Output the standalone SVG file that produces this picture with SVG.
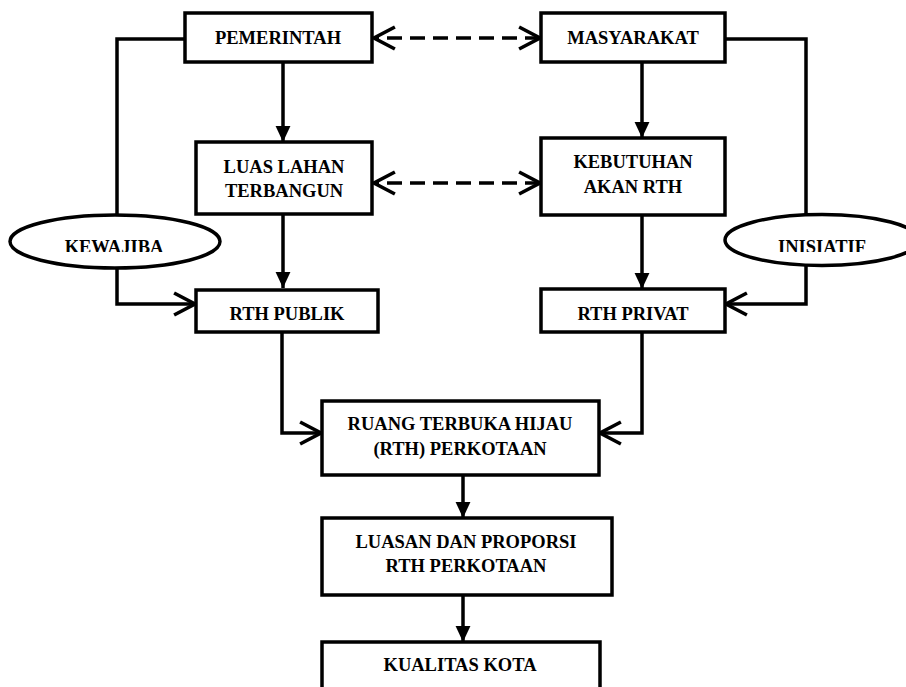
<svg xmlns="http://www.w3.org/2000/svg" width="906" height="687" viewBox="0 0 906 687">
<style>
.box{fill:#fff;stroke:#000;stroke-width:3.5}
.ell{fill:#fff;stroke:#000;stroke-width:3.5}
.t{font-family:"Liberation Serif","Times New Roman",serif;font-weight:bold;font-size:18.5px;fill:#000;text-anchor:middle}
.c{fill:none;stroke:#000;stroke-width:3.5}
.d{fill:none;stroke:#000;stroke-width:3.5;stroke-dasharray:15 8}
</style>
<defs>
<marker id="tri" markerUnits="userSpaceOnUse" markerWidth="16" markerHeight="16" viewBox="0 0 14 14" refX="14" refY="7" orient="auto" overflow="visible">
<path d="M0,0.5 L14,7 L0,13.5 z" fill="#000"/>
</marker>
<marker id="open" markerUnits="userSpaceOnUse" markerWidth="22" markerHeight="22" viewBox="0 0 20 20" refX="19" refY="10" orient="auto-start-reverse" overflow="visible">
<path d="M0,0 L19,10 L0,20" fill="none" stroke="#000" stroke-width="3.3" stroke-linejoin="miter"/>
</marker>
<clipPath id="clipK"><rect x="0" y="200" width="260" height="52"/></clipPath>
<clipPath id="clipI"><rect x="700" y="200" width="206" height="52"/></clipPath>
</defs>
<rect width="906" height="687" fill="#fff"/>
<g id="connectors">
<path class="c" d="M283,62 V142" marker-end="url(#tri)"/>
<path class="c" d="M283,214 V288" marker-end="url(#tri)"/>
<path class="c" d="M642,62 V138" marker-end="url(#tri)"/>
<path class="c" d="M642,215 V289" marker-end="url(#tri)"/>
<path class="d" d="M540,38 H374" marker-start="url(#open)" marker-end="url(#open)"/>
<path class="d" d="M540,183 H374" marker-start="url(#open)" marker-end="url(#open)"/>
<path class="c" d="M185,39 H117 V304 H195" marker-end="url(#open)"/>
<path class="c" d="M725,39 H806 V304 H726" marker-end="url(#open)"/>
<path class="c" d="M282,332 V433 H321" marker-end="url(#open)"/>
<path class="c" d="M642,332 V433 H600" marker-end="url(#open)"/>
<path class="c" d="M463,475 V518" marker-end="url(#tri)"/>
<path class="c" d="M463,595 V642" marker-end="url(#tri)"/>
</g>
<g id="pemerintah"><rect class="box" x="185" y="13" width="187" height="49"/><text class="t" x="278" y="44">PEMERINTAH</text></g>
<g id="masyarakat"><rect class="box" x="541" y="13" width="184" height="49"/><text class="t" x="633" y="44">MASYARAKAT</text></g>
<g id="luas-lahan"><rect class="box" x="196" y="142" width="176" height="72"/><text class="t" x="284" y="173">LUAS LAHAN</text><text class="t" x="284" y="197">TERBANGUN</text></g>
<g id="kebutuhan"><rect class="box" x="541" y="138" width="184" height="77"/><text class="t" x="633" y="168">KEBUTUHAN</text><text class="t" x="633" y="193">AKAN RTH</text></g>
<g id="rth-publik"><rect class="box" x="196" y="290" width="182" height="42"/><text class="t" x="287" y="320">RTH PUBLIK</text></g>
<g id="rth-privat"><rect class="box" x="541" y="289" width="184" height="43"/><text class="t" x="633" y="320">RTH PRIVAT</text></g>
<g id="kewajiban"><ellipse class="ell" cx="115" cy="241.5" rx="105" ry="26.5"/><text class="t" x="114" y="253" clip-path="url(#clipK)">KEWAJIBA</text></g>
<g id="inisiatif"><ellipse class="ell" cx="822" cy="240" rx="97" ry="25.5"/><text class="t" x="822" y="253" clip-path="url(#clipI)">INISIATIF</text></g>
<g id="rth-perkotaan"><rect class="box" x="322" y="401" width="277" height="74"/><text class="t" x="460" y="430">RUANG TERBUKA HIJAU</text><text class="t" x="460" y="455">(RTH) PERKOTAAN</text></g>
<g id="luasan"><rect class="box" x="322" y="518" width="290" height="77"/><text class="t" x="466" y="548">LUASAN DAN PROPORSI</text><text class="t" x="466" y="572">RTH PERKOTAAN</text></g>
<g id="kualitas"><rect class="box" x="322" y="642" width="278" height="60"/><text class="t" x="460" y="671">KUALITAS KOTA</text></g>
</svg>
